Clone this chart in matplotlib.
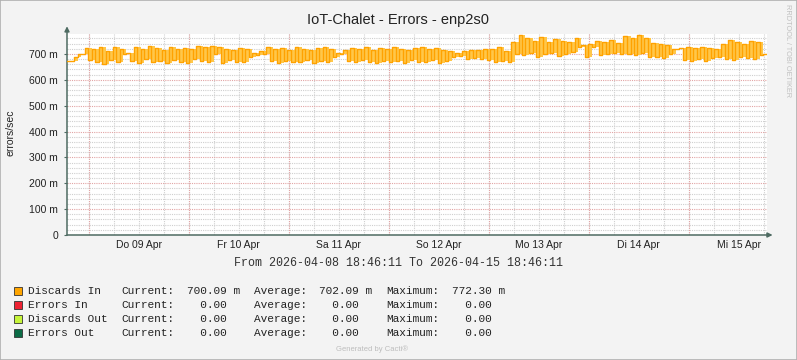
import matplotlib
matplotlib.use("Agg")
import matplotlib.pyplot as plt
from matplotlib.patches import Rectangle
from matplotlib.ticker import MultipleLocator, FixedLocator
import numpy as np

# chart texts
title = "IoT-Chalet - Errors - enp2s0"
ylabel = "errors/sec"
day_labels = ["Do 09 Apr", "Fr 10 Apr", "Sa 11 Apr", "So 12 Apr", "Mo 13 Apr", "Di 14 Apr", "Mi 15 Apr"]
period_text = "From 2026-04-08 18:46:11 To 2026-04-15 18:46:11"
span_hours = 168.0
first_midnight = 5.2303   # hours after 18:46:11 until 00:00

# Discards In (milli errors/sec)
discards_in = [
    672, 672, 690, 698, 700, 722, 675, 718, 668, 725, 660, 712, 678, 728, 670, 720, 700, 705, 672, 726,
    665, 718, 680, 730, 668, 722, 672, 715, 665, 728, 676, 720, 670, 724, 666, 718, 680, 730, 672, 725,
    668, 732, 700, 728, 664, 720, 675, 715, 670, 722, 668, 718, 690, 705, 695, 712, 700, 726, 672, 720,
    666, 724, 674, 716, 668, 728, 670, 720, 676, 714, 664, 722, 672, 726, 668, 718, 690, 702, 700, 715,
    672, 724, 668, 720, 675, 728, 670, 716, 666, 722, 674, 718, 668, 726, 672, 720, 665, 715, 678, 724,
    670, 728, 668, 718, 676, 722, 664, 716, 672, 710, 690, 705, 692, 712, 680, 716, 686, 714, 682, 720,
    676, 718, 670, 725, 672, 710, 668, 745, 700, 772, 695, 760, 702, 750, 690, 765, 698, 748, 705, 758,
    692, 752, 700, 746, 708, 760, 728, 735, 690, 738, 725, 750, 695, 748, 700, 754, 705, 742, 698, 768,
    700, 762, 696, 772, 704, 760, 688, 742, 690, 738, 684, 735, 700, 720, 718, 724, 678, 726, 674, 722,
    680, 727, 673, 724, 684, 720, 690, 740, 682, 755, 678, 745, 690, 738, 686, 752, 680, 745, 696, 700,
]

legend_names = ["Discards In", "Errors In", "Discards Out", "Errors Out"]
legend_colors = ["#FFA500", "#EE2233", "#C6F53A", "#0B6B45"]
cur_vals = ["700.09 m", "  0.00", "  0.00", "  0.00"]
avg_vals = ["702.09 m", "  0.00", "  0.00", "  0.00"]
max_vals = ["772.30 m", "  0.00", "  0.00", "  0.00"]

W, H = 797, 360
bg = "#F3F3F3"
axc = "#4E6B62"
minor_c = "#CFCFCF"
major_c = "#E2A4A4"

fig = plt.figure(figsize=(W / 100, H / 100), dpi=100, facecolor=bg)
ax = fig.add_axes([67 / W, (H - 235) / H, 700 / W, 200.7 / H])
ax.set_facecolor("white")

t = np.linspace(0, span_hours, len(discards_in) + 1)[:-1]
v = np.array(discards_in, dtype=float)
prev = np.r_[v[0], v[:-1]]
tt = np.r_[t, span_hours]
ax.fill_between(tt, np.r_[v, v[-1]], np.r_[prev, v[-1]], step="post",
                color="#FFC74A", lw=0, zorder=3)
ax.step(tt, np.r_[v, v[-1]], where="post", color="#FFA200", lw=1.0, zorder=4)

ax.set_xlim(0, span_hours)
ax.set_ylim(0, 776)

# y grid
yt = np.arange(0, 800, 100)
ax.set_yticks(yt)
ax.set_yticklabels(["0"] + [f"{int(y)} m" for y in yt[1:]])
ax.yaxis.set_minor_locator(MultipleLocator(20))
ax.grid(which="minor", axis="y", color=minor_c, ls=(0, (1, 1)), lw=0.8, zorder=1)
ax.grid(which="major", axis="y", color=major_c, ls=(0, (1, 1)), lw=0.8, zorder=2)

# x grid: every 6 h gray, midnight red
six = np.arange(first_midnight, span_hours, 6)
mids = np.arange(first_midnight, span_hours, 24)
for h in six:
    ax.axvline(h, color=minor_c, ls=(0, (1, 1)), lw=0.8, zorder=1)
for h in mids:
    ax.axvline(h, color=major_c, ls=(0, (1, 1)), lw=0.8, zorder=2)
ax.xaxis.set_major_locator(FixedLocator(mids + 12))
ax.set_xticklabels(day_labels)
ax.xaxis.set_minor_locator(FixedLocator([]))

ax.tick_params(axis="x", length=0, pad=3.5, labelsize=7.5, labelcolor="#222222")
ax.tick_params(axis="y", which="major", length=2.5, color=axc, pad=4, labelsize=7.5, labelcolor="#222222")
ax.tick_params(axis="y", which="minor", length=0)
for lab in ax.get_xticklabels() + ax.get_yticklabels():
    lab.set_fontfamily("Liberation Sans")

for s in ax.spines.values():
    s.set_visible(False)
ax.annotate("", xy=(0, 1.04), xytext=(0, 0), xycoords="axes fraction",
            arrowprops=dict(arrowstyle="-|>", color=axc, lw=1.1, mutation_scale=7, shrinkA=0, shrinkB=0),
            annotation_clip=False)
ax.annotate("", xy=(1.008, 0), xytext=(0, 0), xycoords="axes fraction",
            arrowprops=dict(arrowstyle="-|>", color=axc, lw=1.1, mutation_scale=7, shrinkA=0, shrinkB=0),
            annotation_clip=False)

# texts
def px(x, y):
    return x / W, 1 - y / H

fig.text(*px(398, 20), title, ha="center", va="center", fontsize=10.5,
         family="Liberation Sans", color="#222222")
fig.text(*px(11, 133), ylabel, ha="center", va="center", rotation=90, fontsize=7.5,
         family="Liberation Sans", color="#222222")
fig.text(*px(398, 263), period_text, ha="center", va="center", fontsize=8.4,
         family="Liberation Mono", color="#333333")
fig.text(*px(788, 51), "RRDTOOL / TOBI OETIKER", ha="center", va="center", rotation=-90,
         fontsize=5.3, family="Liberation Sans", color="#C0C0C0")
fig.text(*px(372, 349), "Generated by Cacti\u00ae", ha="center", va="center", fontsize=5.5,
         family="Liberation Sans", color="#BDBDBD")

row_y = [290.7, 304.7, 318.7, 332.7]
mono = dict(fontsize=8, family="Liberation Mono", color="#222222", va="center", ha="left")
for i, yy in enumerate(row_y):
    fig.add_artist(Rectangle(((14) / W, 1 - (yy + 4) / H), 8 / W, 8 / H,
                             transform=fig.transFigure, facecolor=legend_colors[i],
                             edgecolor="#333333", lw=0.6))
    fig.text(*px(28, yy), legend_names[i], **mono)
    fig.text(*px(121.5, yy), "Current:", **mono)
    fig.text(*px(187, yy), cur_vals[i], **mono)
    fig.text(*px(254, yy), "Average:", **mono)
    fig.text(*px(319, yy), avg_vals[i], **mono)
    fig.text(*px(386.5, yy), "Maximum:", **mono)
    fig.text(*px(452, yy), max_vals[i], **mono)

fig.add_artist(Rectangle((0, 0), 1, 1, transform=fig.transFigure, fill=False,
                         edgecolor="#B0B0B0", lw=1.2))

fig.savefig("out.png", dpi=100, facecolor=bg)
